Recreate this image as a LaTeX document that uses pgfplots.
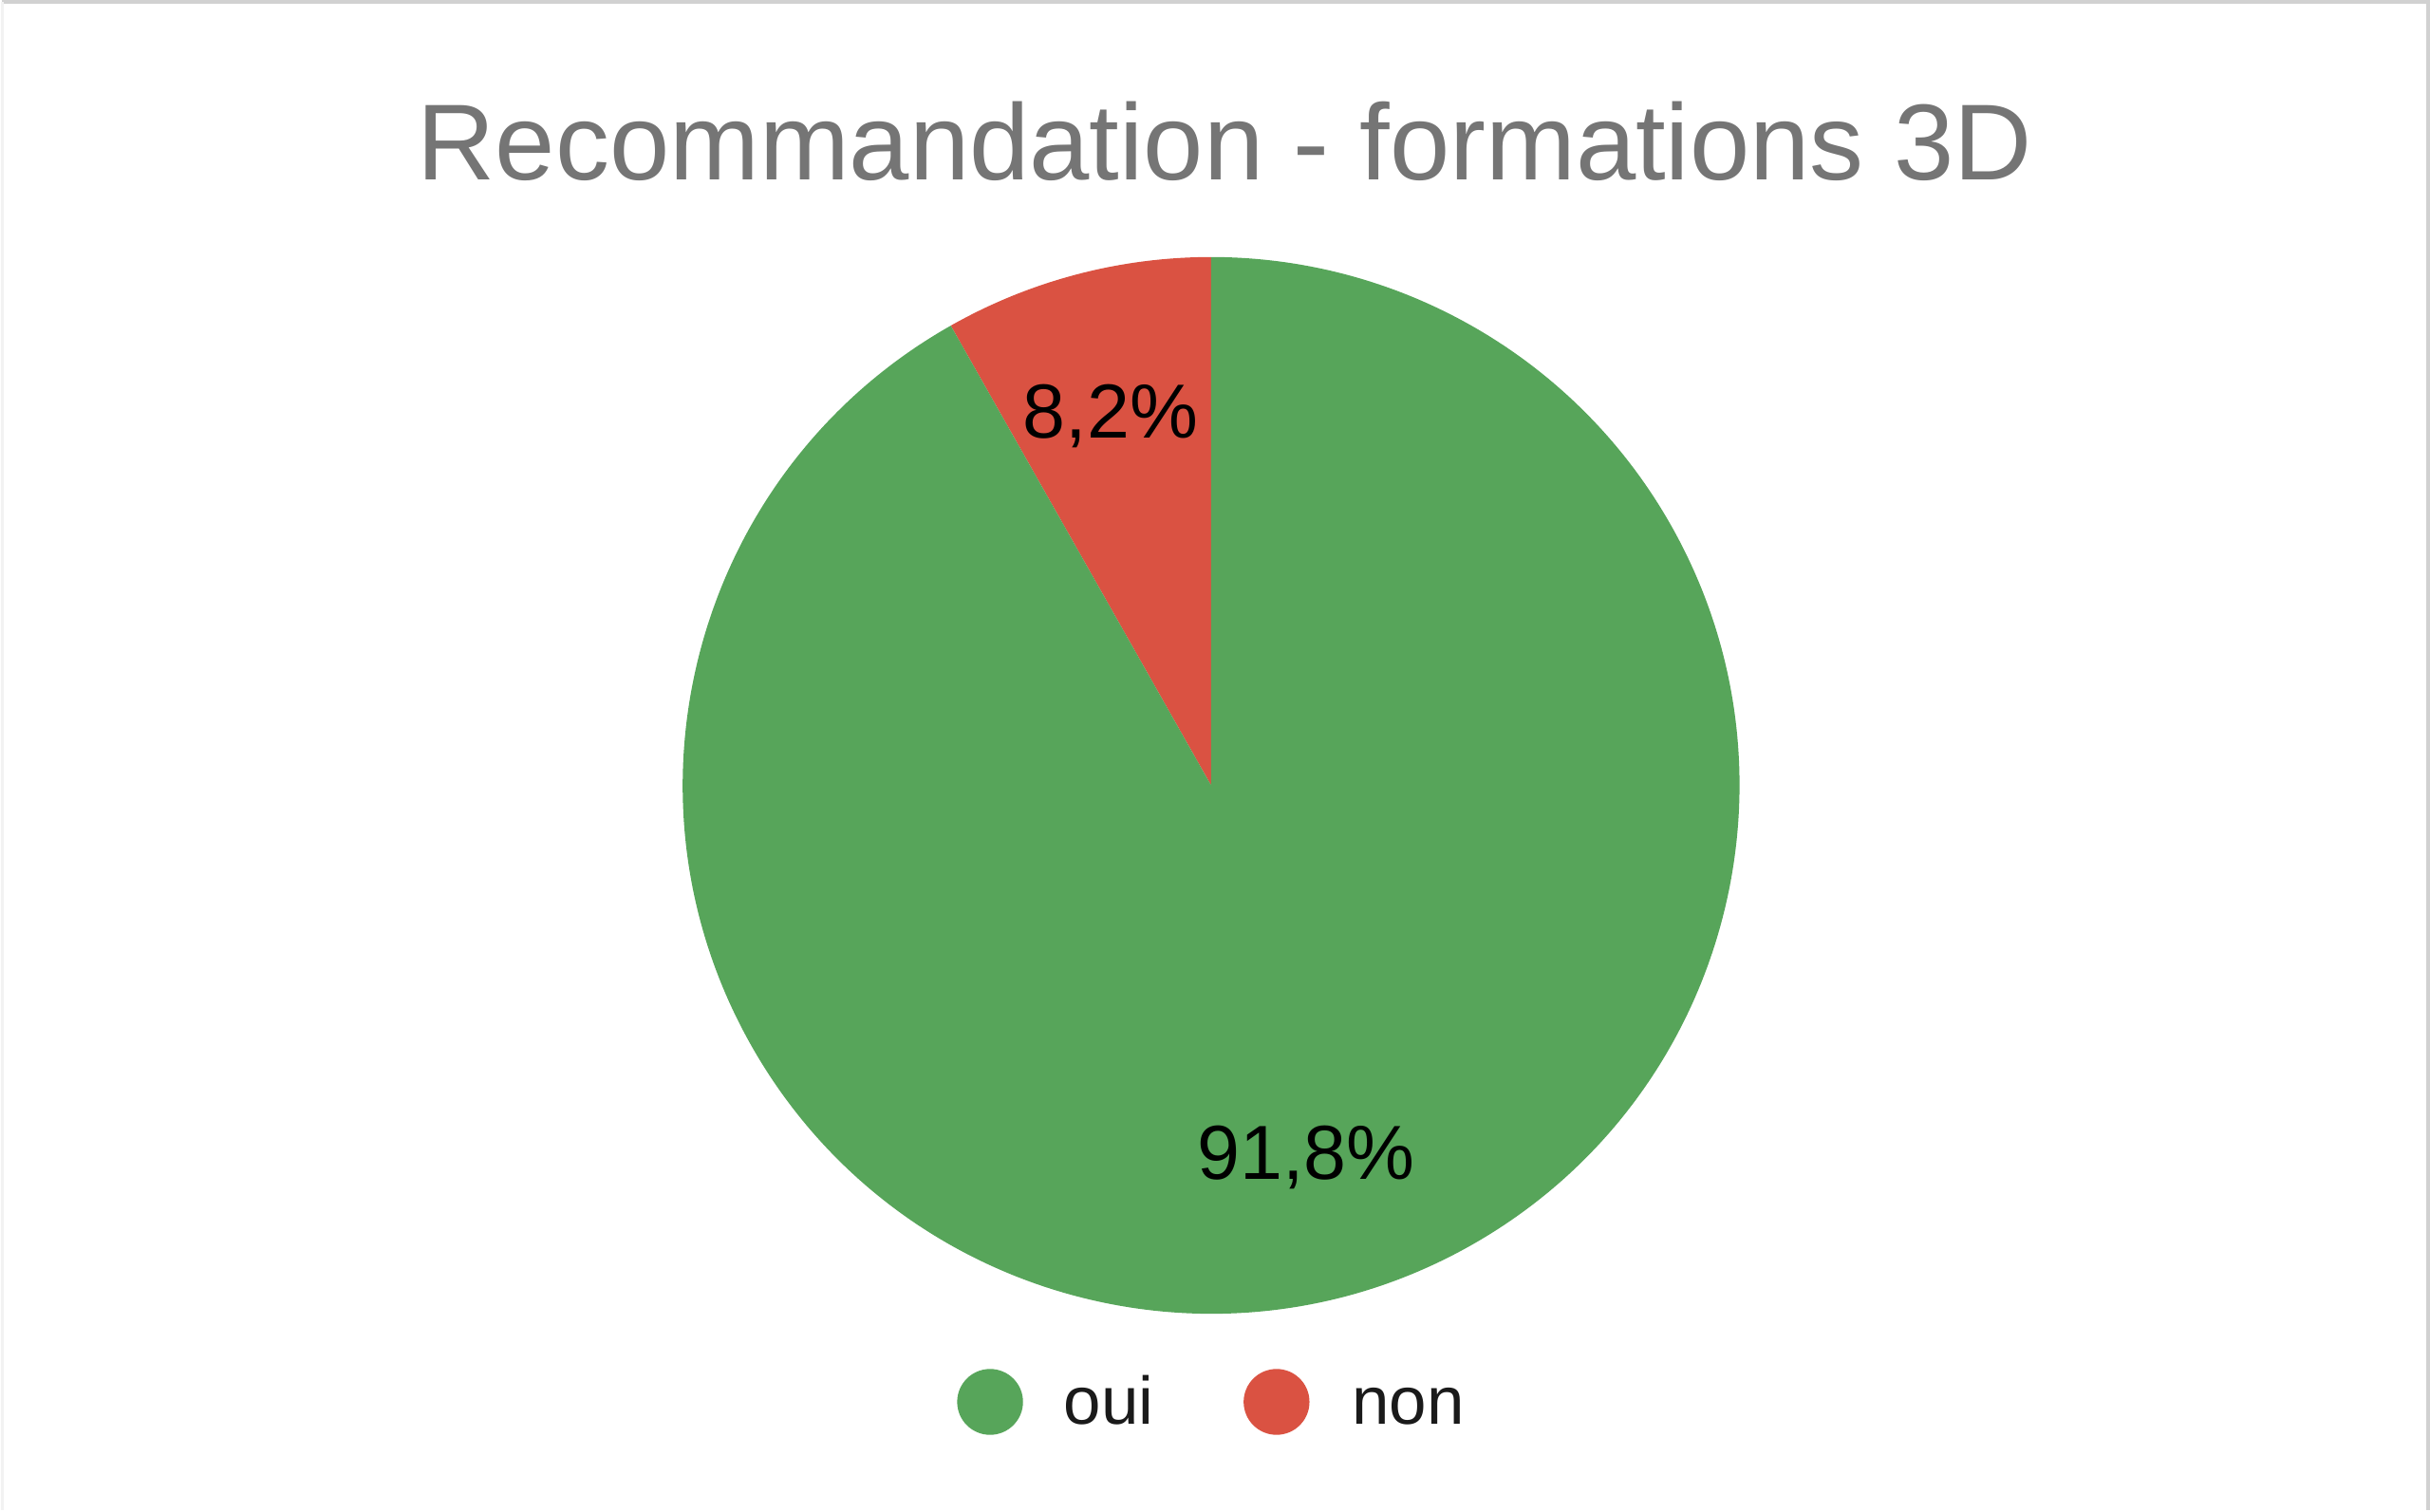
\documentclass[border=0pt]{standalone}
\usepackage{pgfplots}
\pgfplotsset{compat=1.18}
\usepackage{pgfplotstable}
\usepackage{fontspec}
\setmainfont{Liberation Sans}
\definecolor{cOui}{HTML}{57A55A}
\definecolor{cNon}{HTML}{DA5242}
\definecolor{cTitle}{HTML}{757575}
\definecolor{cText}{HTML}{1A1A1A}
\pgfplotstableread{
label value
oui 91.8
non 8.2
}\piedata
\begin{document}
\pgfplotstablegetelem{0}{value}\of\piedata \let\vOui\pgfplotsretval
\pgfplotstablegetelem{1}{value}\of\piedata \let\vNon\pgfplotsretval
\begin{tikzpicture}
\begin{axis}[
  x=0.1mm, y=0.1mm,
  xmin=0, xmax=2560, ymin=0, ymax=1592,
  hide axis, clip=false,
  scale only axis,
]
% background / bounding box
\path[fill=white] (axis cs:0,0) rectangle (axis cs:2560,1592);
\draw[color=black!18, line width=0.35mm] (axis cs:0,1590) -- (axis cs:2558,1590) -- (axis cs:2558,0);
\draw[color=black!5, line width=0.25mm] (axis cs:1,0) -- (axis cs:1,1590);
% pie: centre (1275,764), radius 557 px
\pgfmathsetmacro{\aNon}{90+3.6*\vNon}
\fill[cNon] (axis cs:1275,764) -- ++(90:55.7mm) arc[start angle=90, end angle=\aNon, radius=55.7mm] -- cycle;
\fill[cOui] (axis cs:1275,764) -- ++(\aNon:55.7mm) arc[start angle=\aNon, end angle=450, radius=55.7mm] -- cycle;
% slice labels
\node[anchor=base, inner sep=0pt, font=\fontsize{23}{26}\selectfont, text=black] at (axis cs:1169,1130.5) {8,2\%};
\node[anchor=base, inner sep=0pt, font=\fontsize{23}{26}\selectfont, text=black] at (axis cs:1375,349) {91,8\%};
% title
\node[anchor=base, inner sep=0pt, font=\fontsize{32.4}{36}\selectfont, text=cTitle] at (axis cs:1289.5,1402) {Recommandation - formations 3D};
% legend
\addplot[only marks, mark=*, mark size=3.4mm, color=cOui, mark options={solid, draw=cOui, fill=cOui}] coordinates {(1042,114)};
\addplot[only marks, mark=*, mark size=3.4mm, color=cNon, mark options={solid, draw=cNon, fill=cNon}] coordinates {(1344,114)};
\node[anchor=base west, inner sep=0pt, font=\fontsize{20.2}{24}\selectfont, text=cText] at (axis cs:1119,90) {oui};
\node[anchor=base west, inner sep=0pt, font=\fontsize{20.2}{24}\selectfont, text=cText] at (axis cs:1423,90) {non};
\end{axis}
\end{tikzpicture}
\end{document}
